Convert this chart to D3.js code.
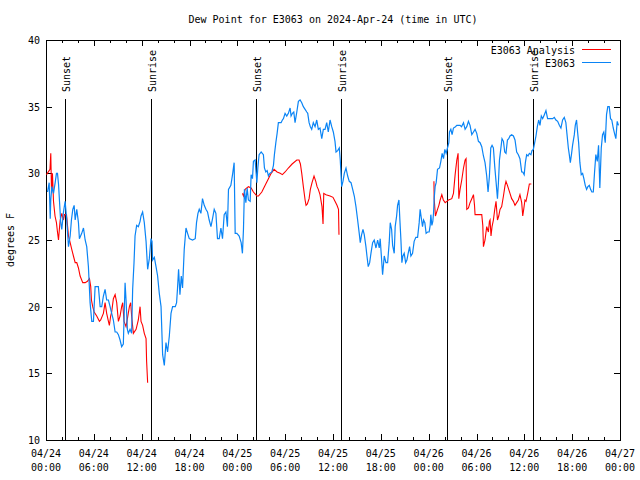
<!DOCTYPE html>
<html><head><meta charset="utf-8">
<script src="https://cdn.jsdelivr.net/npm/d3@7"></script>
<style>
body{margin:0;background:#fff}
svg{display:block}
text{font-family:"DejaVu Sans Mono","Liberation Mono",monospace;font-size:10px;fill:#000}
</style></head><body>
<svg id="c" width="640" height="480"></svg>
<script>
const chartTitle = "Dew Point for E3063 on 2024-Apr-24 (time in UTC)";
const yAxisLabel = "degrees F";
const startTime = "2024-04-24T00:00:00Z";
const endTime = "2024-04-27T00:00:00Z";
const yTickValues = [10, 15, 20, 25, 30, 35, 40];
const seriesNames = ["E3063 Analysis", "E3063"];
const sunLabels = ["Sunset", "Sunrise", "Sunset", "Sunrise", "Sunset", "Sunrise"];
const sunHours = [2.35, 13.13, 26.40, 37.04, 50.32, 61.08];

// observations (hours after start, degrees F)
const obsHours = [0.19,0.40,0.53,0.60,0.73,0.94,1.15,1.31,1.44,1.57,1.78,1.85,1.98,2.19,2.40,2.60,2.82,3.03,3.19,3.36,3.53,3.66,3.86,4.07,4.19,4.48,4.70,4.91,5.11,5.32,5.53,5.74,5.95,6.16,6.57,6.79,6.99,7.20,7.41,7.61,7.83,8.04,8.24,8.45,8.67,8.87,9.08,9.29,9.49,9.70,9.92,10.04,10.21,10.33,10.54,10.74,10.87,11.04,11.17,11.37,11.58,11.80,11.92,12.12,12.33,12.55,12.75,12.96,13.17,13.30,13.37,13.59,13.80,14.00,14.21,14.43,14.63,14.84,15.05,15.25,15.47,15.68,15.88,16.22,16.38,16.50,16.63,16.80,16.97,17.13,17.34,17.56,17.76,17.97,18.38,18.72,18.88,19.06,19.22,19.43,19.63,19.85,20.06,20.26,20.47,20.69,20.89,21.10,21.31,21.51,21.73,21.94,22.14,22.35,22.57,22.76,22.89,23.19,23.42,23.60,23.73,23.94,24.23,24.48,24.64,24.77,24.89,25.07,25.23,25.39,25.61,25.73,25.90,26.02,26.23,26.45,26.57,26.73,26.99,27.27,27.40,27.57,27.74,27.90,28.07,28.33,28.53,28.65,28.83,28.99,29.15,29.49,29.65,29.78,29.99,30.20,30.40,30.62,30.74,30.91,31.08,31.24,31.46,31.66,31.87,32.08,32.28,32.50,32.71,32.83,33.00,33.16,33.33,33.53,33.75,33.96,34.16,34.37,34.59,34.79,35.00,35.21,35.41,35.63,35.84,36.04,36.25,36.38,36.59,36.79,36.91,37.09,37.25,37.42,37.63,37.84,38.04,38.26,38.47,38.67,38.88,39.09,39.29,39.42,39.59,39.76,39.92,40.13,40.26,40.42,40.60,40.76,40.97,41.17,41.39,41.60,41.80,41.92,42.10,42.22,42.43,42.64,42.85,43.05,43.18,43.35,43.48,43.68,43.80,43.98,44.10,44.27,44.39,44.52,44.64,44.77,44.93,45.11,45.27,45.43,45.61,45.77,45.98,46.18,46.39,46.61,46.81,46.93,47.11,47.23,47.36,47.52,47.68,47.86,48.06,48.19,48.27,48.40,48.52,48.61,48.69,48.81,48.94,49.11,49.36,49.53,49.69,49.86,50.03,50.19,50.36,50.53,50.61,50.78,50.94,51.11,51.36,51.53,51.74,51.94,52.12,52.37,52.57,52.78,52.99,53.19,53.41,53.62,53.82,54.03,54.24,54.45,54.66,54.87,55.07,55.28,55.45,55.62,55.79,55.95,56.12,56.29,56.45,56.63,56.75,56.88,57.04,57.20,57.38,57.54,57.70,57.88,58.04,58.20,58.41,58.63,58.83,59.04,59.25,59.45,59.67,59.80,59.98,60.13,60.29,60.46,60.63,60.83,60.96,61.13,61.30,61.46,61.63,61.80,61.96,62.13,62.30,62.51,62.71,62.92,63.14,63.34,63.55,63.76,63.96,64.18,64.39,64.59,64.80,65.01,65.21,65.34,65.52,65.64,65.77,65.93,66.05,66.27,66.39,66.55,66.68,66.81,66.97,67.14,67.31,67.47,67.64,67.81,67.97,68.15,68.31,68.47,68.65,68.81,68.97,69.15,69.31,69.47,69.65,69.81,69.97,70.15,70.31,70.47,70.65,70.81,70.97,71.15,71.31,71.48,71.65,71.81];
const obsDew = [28.6,29.3,26.6,28.0,29.0,28.5,29.3,30.0,30.0,29.2,27.0,26.3,25.8,27.1,27.9,26.5,24.5,25.3,26.5,27.3,27.6,26.5,27.3,26.3,25.1,25.5,25.9,25.0,24.5,23.0,20.3,18.9,18.9,21.5,21.5,20.0,20.0,20.8,21.3,20.5,20.5,20.0,19.5,19.0,18.1,18.1,17.9,17.5,17.0,17.2,21.8,20.5,18.3,18.0,18.3,18.0,21.3,23.3,25.3,26.1,26.0,26.4,26.8,27.1,26.3,24.9,22.8,23.6,25.1,24.9,23.5,23.7,23.0,22.3,21.0,20.0,16.4,15.6,17.3,16.6,17.8,19.5,20.0,20.0,20.3,21.4,22.8,20.9,22.3,21.4,24.3,25.9,25.5,25.1,25.0,25.1,26.3,27.0,27.3,27.0,28.1,27.6,27.3,27.1,26.5,26.0,26.6,27.3,27.0,25.1,25.1,25.9,25.1,26.9,27.1,26.0,28.8,29.1,30.0,30.8,25.5,25.5,25.3,24.8,24.0,25.8,28.8,27.8,28.9,28.0,27.9,29.9,29.6,30.9,31.0,29.3,30.4,31.4,31.6,31.4,30.4,30.1,30.2,29.8,30.0,30.1,30.6,31.4,32.3,33.0,33.8,33.8,34.0,34.1,34.5,34.3,34.5,34.9,34.3,34.5,34.6,33.8,34.6,35.4,35.5,35.3,35.0,34.8,34.6,34.5,33.8,33.5,33.3,33.8,33.5,34.0,33.3,33.4,32.6,33.3,33.3,33.8,33.1,34.0,33.5,33.1,32.4,31.6,31.7,31.9,31.0,29.0,29.4,30.0,30.4,29.8,29.4,29.3,28.8,28.3,27.5,26.5,25.5,24.8,25.4,25.8,25.4,24.5,23.8,23.0,23.3,24.0,24.8,25.0,24.4,25.0,24.4,25.1,23.5,22.4,23.8,23.3,23.3,24.8,26.3,25.8,24.6,24.0,26.0,26.8,27.6,28.0,26.5,25.0,23.3,23.8,24.0,23.3,23.5,24.0,24.5,23.8,24.0,24.9,25.2,25.2,26.3,27.3,26.5,26.0,26.5,26.3,25.5,25.6,25.6,26.1,26.9,26.1,26.4,27.0,28.1,29.0,29.3,30.3,30.4,30.9,31.5,31.1,31.8,31.5,31.9,32.3,33.1,33.3,32.9,33.4,33.5,33.6,33.6,33.6,33.5,33.8,33.3,33.5,33.9,33.6,32.9,33.1,33.3,33.0,32.4,32.3,32.0,31.3,30.8,29.8,28.6,29.8,31.9,32.1,31.9,30.5,29.4,28.1,29.3,31.0,31.8,32.6,32.4,31.6,31.5,32.5,32.6,32.8,32.9,32.8,32.5,31.6,31.4,31.1,30.1,30.1,29.9,30.8,31.4,31.3,31.5,31.4,31.7,31.8,32.3,32.8,33.5,34.0,33.6,34.3,34.1,34.4,34.7,34.1,34.1,34.1,34.1,34.2,34.0,33.9,33.6,33.4,34.0,34.2,33.8,33.0,31.9,31.4,30.8,31.5,32.1,32.9,33.6,34.0,33.1,32.3,30.8,29.9,30.0,29.6,29.1,28.8,29.0,29.1,28.8,28.6,28.6,30.1,31.4,30.9,32.1,28.9,31.9,32.9,33.1,32.3,34.4,35.0,35.0,34.1,34.0,33.4,33.0,32.6,33.9,33.6];

// analysis (null = gap)
const anaHours = [0.06,0.50,0.60,0.69,0.81,0.94,1.13,1.31,1.44,1.57,1.69,1.78,1.98,2.19,2.32,2.57,2.82,3.03,3.23,3.44,3.66,3.86,4.07,4.28,4.61,4.91,5.20,5.45,5.61,5.70,5.86,6.04,6.36,6.70,6.86,7.20,7.41,7.61,7.83,7.95,8.11,8.24,8.45,8.67,8.87,9.08,9.29,9.49,9.62,9.79,10.04,10.21,10.46,10.62,10.74,10.96,11.30,11.58,11.80,11.92,12.12,12.33,12.55,12.62,12.75,
  18.0,
  24.64,24.77,24.98,25.39,25.73,26.02,26.45,26.65,27.07,27.49,27.90,28.24,28.61,28.99,29.37,29.65,29.99,30.40,30.87,31.46,31.74,31.91,32.08,32.28,32.50,32.62,32.78,33.00,33.16,33.37,33.62,33.84,34.00,34.16,34.37,34.62,34.75,34.84,35.12,35.63,36.00,36.25,36.50,36.69,36.75,
  42.0,
  48.66,48.69,48.85,49.11,49.28,49.44,49.65,49.84,50.07,50.28,50.49,50.90,51.11,51.32,51.53,51.69,51.78,51.94,52.15,52.37,52.57,52.69,52.78,52.99,53.19,53.41,53.62,53.75,53.82,54.66,54.79,54.87,55.07,55.28,55.49,55.62,55.70,55.82,55.95,56.12,56.29,56.45,56.63,56.79,56.95,57.16,57.38,57.58,57.70,57.88,58.04,58.20,58.41,58.63,58.83,59.04,59.25,59.45,59.67,59.80,59.92,60.08,60.21,60.42,60.63,60.88];
const anaDew = [29.9,30.3,31.5,28.6,30.0,27.9,26.8,26.3,25.6,25.0,25.9,26.5,27.0,26.5,26.9,26.9,25.3,24.8,24.3,23.8,23.3,23.3,22.9,22.3,21.8,21.8,21.9,22.1,21.5,20.5,20.0,19.6,19.3,18.9,19.0,19.5,20.3,19.5,18.9,18.6,19.3,19.6,20.6,20.9,20.3,18.9,19.3,20.0,20.3,18.9,18.5,19.1,20.0,20.3,19.3,18.0,18.3,19.0,20.0,18.9,18.6,18.0,17.6,15.9,14.3,
  null,
  28.5,28.3,28.8,29.0,28.9,28.6,28.3,28.3,28.6,29.1,29.6,30.0,30.3,30.1,30.0,29.9,30.1,30.4,30.7,31.0,31.0,30.7,30.0,29.0,28.0,27.6,27.7,28.1,28.8,29.3,29.8,29.4,29.0,28.8,28.4,27.5,26.2,28.5,28.4,28.3,28.2,27.9,27.6,27.3,25.4,
  null,
  29.4,28.1,26.8,27.3,27.6,28.0,28.4,28.0,27.8,27.9,28.0,28.1,28.5,29.9,31.0,31.5,28.1,28.8,29.5,30.4,31.0,31.1,27.3,27.4,27.8,28.1,28.4,27.6,26.9,26.9,26.1,24.5,25.0,26.0,25.6,26.4,26.5,25.3,26.0,26.5,27.3,27.9,26.5,26.8,27.3,27.5,28.3,29.1,29.4,29.1,28.8,28.5,28.1,27.9,27.6,27.8,28.0,28.4,27.8,26.8,27.3,28.0,27.9,28.5,29.2,29.2];

const svg = d3.select("#c");
const t0 = new Date(startTime), t1 = new Date(endTime);
const hr = h => new Date(t0.getTime() + h * 3600e3);
const x = d3.scaleUtc().domain([t0, t1]).range([46, 620]);
const y = d3.scaleLinear().domain([10, 40]).range([440, 40]);

svg.append("rect").attr("width", 640).attr("height", 480).attr("fill", "#fff");

const crisp = g => g.attr("shape-rendering", "crispEdges");
// minor ticks (every 2h) bottom/top
svg.append("g").attr("transform", "translate(0,440)").call(crisp)
  .call(d3.axisBottom(x).ticks(d3.utcHour.every(2)).tickSize(-3).tickSizeOuter(0).tickFormat(""));
svg.append("g").attr("transform", "translate(0,40)").call(crisp)
  .call(d3.axisTop(x).ticks(d3.utcHour.every(2)).tickSize(-3).tickSizeOuter(0).tickFormat(""));
// major ticks (every 6h)
svg.append("g").attr("transform", "translate(0,440)").call(crisp)
  .call(d3.axisBottom(x).ticks(d3.utcHour.every(6)).tickSize(-6).tickSizeOuter(0).tickFormat(""));
svg.append("g").attr("transform", "translate(0,40)").call(crisp)
  .call(d3.axisTop(x).ticks(d3.utcHour.every(6)).tickSize(-6).tickSizeOuter(0).tickFormat(""));
svg.append("g").attr("transform", "translate(46,0)").call(crisp)
  .call(d3.axisLeft(y).tickValues(yTickValues).tickSize(-6).tickSizeOuter(0).tickFormat(""));
svg.append("g").attr("transform", "translate(620,0)").call(crisp)
  .call(d3.axisRight(y).tickValues(yTickValues).tickSize(-6).tickSizeOuter(0).tickFormat(""));
svg.selectAll(".domain, .tick line").attr("stroke", "#000");

// y tick labels
svg.append("g").selectAll("text").data(yTickValues).join("text")
  .attr("x", 40).attr("y", d => y(d) + 4).attr("text-anchor", "end").text(d => d);
// x tick labels
const fmtD = d3.utcFormat("%m/%d"), fmtT = d3.utcFormat("%H:%M");
const xl = svg.append("g").selectAll("text").data(x.ticks(d3.utcHour.every(6))).join("text")
  .attr("text-anchor", "middle");
xl.append("tspan").attr("x", d => x(d)).attr("y", 457).text(fmtD);
xl.append("tspan").attr("x", d => x(d)).attr("y", 471).text(fmtT);

// titles
svg.append("text").attr("x", 333).attr("y", 23).attr("text-anchor", "middle").text(chartTitle);
svg.append("text").attr("transform", "translate(14,240) rotate(-90)").attr("text-anchor", "middle").text(yAxisLabel);

// sun lines
const sun = sunHours.map((h, i) => ({t: hr(h), label: sunLabels[i]}));
svg.append("g").call(crisp).selectAll("line").data(sun).join("line")
  .attr("x1", d => Math.round(x(d.t)) + 0.5).attr("x2", d => Math.round(x(d.t)) + 0.5)
  .attr("y1", 99).attr("y2", 440).attr("stroke", "#000");
svg.append("g").selectAll("text").data(sun).join("text")
  .attr("transform", d => `translate(${Math.round(x(d.t)) + 5},92) rotate(-90)`)
  .text(d => d.label);

// series
const line = d3.line().defined(d => d.v != null).x(d => x(d.t)).y(d => y(d.v));
const ana = anaHours.map((h, i) => ({t: hr(h), v: anaDew[i]}));
const obs = obsHours.map((h, i) => ({t: hr(h), v: obsDew[i]}));
svg.append("path").datum(ana).attr("d", line).attr("fill", "none").attr("stroke", "#ff0000")
  .attr("stroke-width", 1.1).attr("stroke-linejoin", "miter");
svg.append("path").datum(obs).attr("d", line).attr("fill", "none").attr("stroke", "#0a84f5")
  .attr("stroke-width", 1.2).attr("stroke-linejoin", "miter");

// legend
const legColors = ["#ff0000", "#0a84f5"];
const leg = svg.append("g");
seriesNames.forEach((n, i) => {
  const yy = 49.5 + i * 13;
  leg.append("text").attr("x", 575).attr("y", yy + 4).attr("text-anchor", "end").text(n);
  leg.append("line").attr("x1", 582).attr("x2", 611).attr("y1", yy).attr("y2", yy)
    .attr("stroke", legColors[i]).attr("shape-rendering", "crispEdges");
});
</script>
</body></html>
